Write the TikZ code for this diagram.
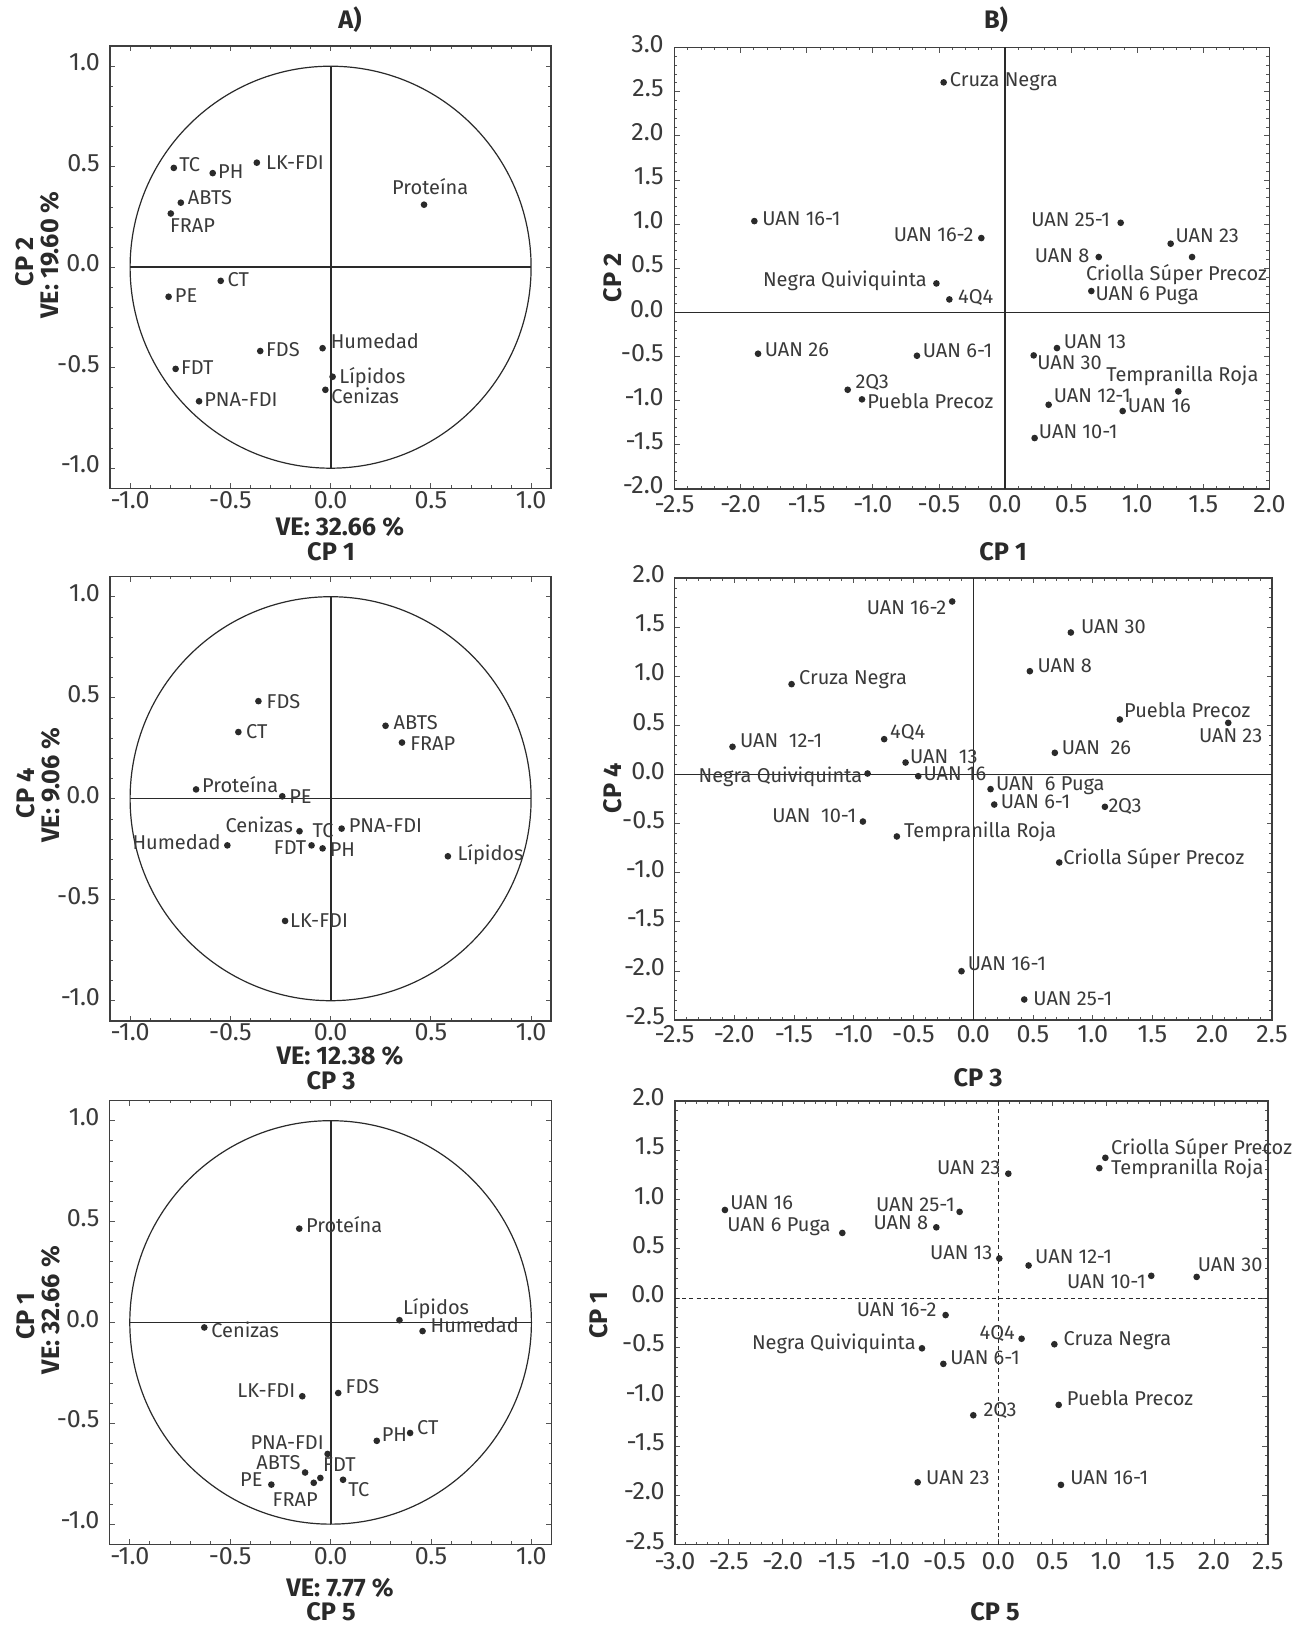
\documentclass[tikz,border=0pt]{standalone}
\usepackage{fontspec}
\setmainfont{Fira Sans}
\definecolor{ink}{HTML}{2a2a2a}
\definecolor{txt}{HTML}{3a3a3a}
\newcommand\lblfont{\fontsize{15}{18}\selectfont}
\newcommand\tickfont{\fontsize{18.8}{22}\selectfont}
\newcommand\ttlfont{\fontsize{19}{22}\selectfont\bfseries}
\newcommand\Dot[3]{\node[dot] (#1) at (#2,#3) {};}
\newcommand\LabW[4]{\node[lbl,anchor=west] (#1) at (#2,#3) {#4};}
\newcommand\LabE[4]{\node[lbl,anchor=east] (#1) at (#2,#3) {#4};}
% frame with inward ticks every 0.1; args are tenths: xmin xmax ymin ymax
\newcommand\Frame[4]{%
  \pgfmathsetmacro\xa{#1/10}\pgfmathsetmacro\xb{#2/10}%
  \pgfmathsetmacro\ya{#3/10}\pgfmathsetmacro\yb{#4/10}%
  \foreach \i in {#1,...,#2}{%
    \pgfmathsetmacro\v{\i/10}\pgfmathsetmacro\len{(mod(\i,5)==0)?4:2.2}%
    \draw[tickl] (\v,\ya) -- ++(0pt,\len pt);
    \draw[tickl] (\v,\yb) -- ++(0pt,-\len pt);}%
  \foreach \i in {#3,...,#4}{%
    \pgfmathsetmacro\v{\i/10}\pgfmathsetmacro\len{(mod(\i,5)==0)?4:2.2}%
    \draw[tickl] (\xa,\v) -- ++(\len pt,0pt);
    \draw[tickl] (\xb,\v) -- ++(-\len pt,0pt);}%
  \draw[framel] (\xa,\ya) rectangle (\xb,\yb);}
\tikzset{
  dot/.style={circle, fill=ink, draw=none, inner sep=0pt, minimum size=5pt},
  lbl/.style={font=\lblfont, text=txt, inner sep=0pt, text height=0.7em, text depth=0pt},
  ticklbl/.style={font=\tickfont, text=txt, inner sep=0pt, text height=0.69em, text depth=0pt},
  ttl/.style={font=\ttlfont, text=ink, inner sep=0pt, text height=0.69em, text depth=0pt},
  framel/.style={draw=ink!90, line width=1.1pt},
  tickl/.style={draw=ink!80, line width=0.6pt},
  circl/.style={draw=ink, line width=0.9pt},
  axv/.style={draw=ink, line width=1.5pt},
  axh/.style={draw=ink, line width=1.1pt},
  axb/.style={draw=ink, line width=0.8pt},
  axd/.style={draw=ink, line width=0.65pt, dash pattern=on 3pt off 2.4pt},
}
\begin{document}
\begin{tikzpicture}[x=0.75pt,y=-0.75pt]
\useasboundingbox (0,0) rectangle (1299,1630);
\fill[white] (0,0) rectangle (1299,1630);

% ---------------- titles ----------------
\node[ttl] (tA) at (350,24) {A)};
\node[ttl] (tB) at (996,24) {B)};
\node[ttl] (a1ve) at (340,531) {VE: 32.66 \%};
\node[ttl] (a1cp) at (331,556) {CP 1};
\node[ttl,rotate=90] (a1cpy) at (29,262) {CP 2};
\node[ttl,rotate=90] (a1vey) at (54,255) {VE: 19.60 \%};
\node[ttl] (a2ve) at (340,1060) {VE: 12.38 \%};
\node[ttl] (a2cp) at (331,1085) {CP 3};
\node[ttl,rotate=90] (a2cpy) at (30,793) {CP 4};
\node[ttl,rotate=90] (a2vey) at (55,785) {VE: 9.06 \%};
\node[ttl] (a3ve) at (340,1592) {VE: 7.77 \%};
\node[ttl] (a3cp) at (331,1616) {CP 5};
\node[ttl,rotate=90] (a3cpy) at (30,1316) {CP 1};
\node[ttl,rotate=90] (a3vey) at (55,1310) {VE: 32.66 \%};
\node[ttl] (b1cp) at (1003,556) {CP 1};
\node[ttl,rotate=90] (b1cpy) at (617,278) {CP 2};
\node[ttl] (b2cp) at (978,1082) {CP 3};
\node[ttl,rotate=90] (b2cpy) at (617,788) {CP 4};
\node[ttl] (b3cp) at (995,1616) {CP 5};
\node[ttl,rotate=90] (b3cpy) at (603,1315) {CP 1};

% ---------------- A1 ----------------
\begin{scope}[shift={(330.6,267.2)}, x=150.375pt, y=150.75pt]
\Frame{-11}{11}{-11}{11}
\foreach \v/\t in {-1/-1.0,-0.5/-0.5,0/0.0,0.5/0.5,1/1.0}{
  \node[ticklbl,anchor=east] at ([xshift=-7.5pt]-1.1,\v) {\t};
  \node[ticklbl] at ([yshift=-12pt]\v,-1.1) {\t};}
\draw[circl] (0,0) ellipse [x radius=1, y radius=1];
\draw[axv] (0,-1) -- (0,1);
\draw[axh] (-1,0) -- (1,0);
\Dot{a1tc}{-0.782}{0.494} \LabW{a1tcl}{-0.756}{0.50}{TC}
\Dot{a1ph}{-0.588}{0.468} \LabW{a1phl}{-0.562}{0.463}{PH}
\Dot{a1lk}{-0.368}{0.520} \LabW{a1lkl}{-0.323}{0.509}{LK-FDI}
\Dot{a1pr}{0.466}{0.311} \node[lbl] (a1prl) at (0.497,0.383) {Proteína};
\Dot{a1ab}{-0.747}{0.321} \LabW{a1abl}{-0.713}{0.335}{ABTS}
\Dot{a1fr}{-0.797}{0.267} \LabW{a1frl}{-0.802}{0.198}{FRAP}
\Dot{a1ct}{-0.548}{-0.068} \LabW{a1ctl}{-0.515}{-0.072}{CT}
\Dot{a1pe}{-0.808}{-0.147} \LabW{a1pel}{-0.778}{-0.154}{PE}
\Dot{a1fds}{-0.351}{-0.417} \LabW{a1fdsl}{-0.323}{-0.421}{FDS}
\Dot{a1hu}{-0.040}{-0.403} \LabW{a1hul}{0.0}{-0.383}{Humedad}
\Dot{a1fdt}{-0.773}{-0.506} \LabW{a1fdtl}{-0.747}{-0.513}{FDT}
\Dot{a1li}{0.010}{-0.545} \LabW{a1lil}{0.043}{-0.554}{Lípidos}
\Dot{a1ce}{-0.026}{-0.610} \LabW{a1cel}{0.003}{-0.656}{Cenizas}
\Dot{a1pna}{-0.656}{-0.667} \LabW{a1pnal}{-0.631}{-0.670}{PNA-FDI}
\end{scope}

% ---------------- A2 ----------------
\begin{scope}[shift={(330.6,798.7)}, x=150.375pt, y=151.5pt]
\Frame{-11}{11}{-11}{11}
\foreach \v/\t in {-1/-1.0,-0.5/-0.5,0/0.0,0.5/0.5,1/1.0}{
  \node[ticklbl,anchor=east] at ([xshift=-7.5pt]-1.1,\v) {\t};
  \node[ticklbl] at ([yshift=-11.5pt]\v,-1.1) {\t};}
\draw[circl] (0,0) ellipse [x radius=1, y radius=1];
\draw[axv] (0,-1) -- (0,1);
\draw[axh] (-1,0) -- (1,0);
\Dot{a2fds}{-0.360}{0.483} \LabW{a2fdsl}{-0.320}{0.471}{FDS}
\Dot{a2ct}{-0.460}{0.330} \LabW{a2ctl}{-0.423}{0.323}{CT}
\Dot{a2ab}{0.274}{0.361} \LabW{a2abl}{0.313}{0.364}{ABTS}
\Dot{a2fr}{0.356}{0.278} \LabW{a2frl}{0.396}{0.260}{FRAP}
\Dot{a2pr}{-0.671}{0.046} \LabW{a2prl}{-0.642}{0.054}{Proteína}
\Dot{a2pe}{-0.241}{0.012} \LabW{a2pel}{-0.207}{0.0}{PE}
\Dot{a2ce}{-0.155}{-0.161} \LabE{a2cel}{-0.186}{-0.142}{Cenizas}
\LabW{a2tcl}{-0.091}{-0.171}{TC}
\Dot{a2pna}{0.055}{-0.148} \LabW{a2pnal}{0.0895}{-0.142}{PNA-FDI}
\Dot{a2hu}{-0.515}{-0.231} \LabE{a2hul}{-0.547}{-0.226}{Humedad}
\Dot{a2fdt}{-0.095}{-0.231} \LabE{a2fdtl}{-0.120}{-0.254}{FDT}
\Dot{a2ph}{-0.040}{-0.246} \LabW{a2phl}{-0.005}{-0.265}{PH}
\Dot{a2li}{0.585}{-0.285} \LabW{a2lil}{0.632}{-0.283}{Lípidos}
\Dot{a2lk}{-0.227}{-0.605} \LabW{a2lkl}{-0.203}{-0.616}{LK-FDI}
\end{scope}

% ---------------- A3 ----------------
\begin{scope}[shift={(330.6,1322.4)}, x=150.6pt, y=151.3pt]
\Frame{-11}{11}{-11}{11}
\foreach \v/\t in {-1/-1.0,-0.5/-0.5,0/0.0,0.5/0.5,1/1.0}{
  \node[ticklbl,anchor=east] at ([xshift=-7.5pt]-1.1,\v) {\t};
  \node[ticklbl] at ([yshift=-12pt]\v,-1.1) {\t};}
\draw[circl] (0,0) ellipse [x radius=1, y radius=1];
\draw[axv] (0,-1) -- (0,1);
\draw[axh] (-1,0) -- (1,0);
\Dot{a3pr}{-0.156}{0.465} \LabW{a3prl}{-0.123}{0.468}{Proteína}
\Dot{a3li}{0.343}{0.011} \LabW{a3lil}{0.360}{0.061}{Lípidos}
\Dot{a3hu}{0.458}{-0.043} \LabW{a3hul}{0.497}{-0.029}{Humedad}
\Dot{a3ce}{-0.629}{-0.025} \LabW{a3cel}{-0.595}{-0.050}{Cenizas}
\Dot{a3lk}{-0.141}{-0.366} \LabE{a3lkl}{-0.175}{-0.348}{LK-FDI}
\Dot{a3fds}{0.038}{-0.350} \LabW{a3fdsl}{0.074}{-0.330}{FDS}
\Dot{a3ph}{0.230}{-0.587} \LabW{a3phl}{0.254}{-0.568}{PH}
\Dot{a3ct}{0.396}{-0.548} \LabW{a3ctl}{0.430}{-0.533}{CT}
\Dot{a3pna}{-0.015}{-0.652} \LabE{a3pnal}{-0.033}{-0.605}{PNA-FDI}
\Dot{a3ab}{-0.127}{-0.744} \LabE{a3abl}{-0.149}{-0.708}{ABTS}
\Dot{a3fdt}{-0.051}{-0.771} \LabW{a3fdtl}{-0.038}{-0.717}{FDT}
\Dot{a3fr}{-0.084}{-0.795} \LabE{a3frl}{-0.063}{-0.888}{FRAP}
\Dot{a3pe}{-0.295}{-0.804} \LabE{a3pel}{-0.338}{-0.789}{PE}
\Dot{a3tc}{0.062}{-0.780} \LabW{a3tcl}{0.087}{-0.840}{TC}
\end{scope}

% ---------------- B1 ----------------
\begin{scope}[shift={(1005,312.4)}, x=99.15pt, y=66.225pt]
\Frame{-25}{20}{-20}{30}
\foreach \v/\t in {-2.5/-2.5,-2/-2.0,-1.5/-1.5,-1/-1.0,-0.5/-0.5,0/0.0,0.5/0.5,1/1.0,1.5/1.5,2/2.0}{
  \node[ticklbl] at ([yshift=-14pt]\v,-2) {\t};}
\foreach \v/\t in {-2/-2.0,-1.5/-1.5,-1/-1.0,-0.5/-0.5,0/0.0,0.5/0.5,1/1.0,1.5/1.5,2/2.0,2.5/2.5,3/3.0}{
  \node[ticklbl,anchor=east] at ([xshift=-8pt]-2.5,\v) {\t};}
\draw[axb] (0,-2) -- (0,3);
\draw[axb] (-2.5,0) -- (2,0);
\Dot{b1cn}{-0.464}{2.605} \LabW{b1cnl}{-0.419}{2.616}{Cruza Negra}
\Dot{b1u161}{-1.896}{1.034} \LabW{b1u161l}{-1.838}{1.042}{UAN 16-1}
\Dot{b1u162}{-0.179}{0.842} \LabE{b1u162l}{-0.237}{0.853}{UAN 16-2}
\Dot{b1nq}{-0.519}{0.328} \LabE{b1nql}{-0.590}{0.351}{Negra Quiviquinta}
\Dot{b1q4}{-0.421}{0.147} \LabW{b1q4l}{-0.356}{0.155}{4Q4}
\Dot{b1u26}{-1.868}{-0.468} \LabW{b1u26l}{-1.818}{-0.449}{UAN 26}
\Dot{b1u61}{-0.666}{-0.491} \LabW{b1u61l}{-0.623}{-0.461}{UAN 6-1}
\Dot{b1q3}{-1.190}{-0.876} \LabW{b1q3l}{-1.132}{-0.808}{2Q3}
\Dot{b1pp}{-1.082}{-0.985} \LabW{b1ppl}{-1.044}{-1.034}{Puebla Precoz}
\Dot{b1u251}{0.875}{1.015} \LabE{b1u251l}{0.797}{1.031}{UAN 25-1}
\Dot{b1u23}{1.253}{0.778} \LabW{b1u23l}{1.288}{0.846}{UAN 23}
\Dot{b1cs}{1.415}{0.627} \LabE{b1csl}{1.982}{0.419}{Criolla Súper Precoz}
\Dot{b1u8}{0.709}{0.627} \LabE{b1u8l}{0.640}{0.619}{UAN 8}
\Dot{b1u6p}{0.653}{0.242} \LabW{b1u6pl}{0.683}{0.193}{UAN 6 Puga}
\Dot{b1u13}{0.393}{-0.404} \LabW{b1u13l}{0.444}{-0.355}{UAN 13}
\Dot{b1u30}{0.217}{-0.487} \LabW{b1u30l}{0.242}{-0.589}{UAN 30}
\Dot{b1tr}{1.311}{-0.895} \LabE{b1trl}{1.919}{-0.732}{Tempranilla Roja}
\Dot{b1u121}{0.330}{-1.046} \LabW{b1u121l}{0.368}{-0.970}{UAN 12-1}
\Dot{b1u16}{0.890}{-1.117} \LabW{b1u16l}{0.928}{-1.080}{UAN 16}
\Dot{b1u101}{0.224}{-1.423} \LabW{b1u101l}{0.255}{-1.374}{UAN 10-1}
\end{scope}

% ---------------- B2 ----------------
\begin{scope}[shift={(973.2,774.5)}, x=89.625pt, y=73.65pt]
\Frame{-25}{25}{-25}{20}
\foreach \v/\t in {-2.5/-2.5,-2/-2.0,-1.5/-1.5,-1/-1.0,-0.5/-0.5,0/0.0,0.5/0.5,1/1.0,1.5/1.5,2/2.0,2.5/2.5}{
  \node[ticklbl] at ([yshift=-13.5pt]\v,-2.5) {\t};}
\foreach \v/\t in {-2.5/-2.5,-2/-2.0,-1.5/-1.5,-1/-1.0,-0.5/-0.5,0/0.0,0.5/0.5,1/1.0,1.5/1.5,2/2.0}{
  \node[ticklbl,anchor=east] at ([xshift=-7pt]-2.5,\v) {\t};}
\draw[axb] (0,-2.5) -- (0,2);
\draw[axb] (-2.5,0) -- (2.5,0);
\Dot{b2u162}{-0.176}{1.762} \LabE{b2u162l}{-0.223}{1.680}{UAN 16-2}
\Dot{b2cn}{-1.520}{0.920} \LabW{b2cnl}{-1.459}{0.961}{Cruza Negra}
\Dot{b2u121}{-2.014}{0.282} \LabW{b2u121l}{-1.953}{0.322}{UAN~~12-1}
\Dot{b2q4}{-0.745}{0.360} \LabW{b2q4l}{-0.697}{0.411}{4Q4}
\Dot{b2u13}{-0.566}{0.122} \LabW{b2u13l}{-0.530}{0.160}{UAN~~13}
\Dot{b2nq}{-0.884}{0.010} \LabE{b2nql}{-0.926}{-0.031}{Negra Quiviquinta}
\Dot{b2u16}{-0.460}{-0.017} \LabW{b2u16l}{-0.418}{-0.017}{UAN 16}
\Dot{b2u6p}{0.145}{-0.149} \LabW{b2u6pl}{0.190}{-0.119}{UAN~~6 Puga}
\Dot{b2u61}{0.176}{-0.306} \LabW{b2u61l}{0.229}{-0.302}{UAN 6-1}
\Dot{b2u101}{-0.923}{-0.479} \LabE{b2u101l}{-0.976}{-0.438}{UAN~~10-1}
\Dot{b2tr}{-0.639}{-0.631} \LabW{b2trl}{-0.580}{-0.594}{Tempranilla Roja}
\Dot{b2u161}{-0.098}{-2.003} \LabW{b2u161l}{-0.047}{-1.952}{UAN 16-1}
\Dot{b2u30}{0.817}{1.446} \LabW{b2u30l}{0.901}{1.480}{UAN 30}
\Dot{b2u8}{0.474}{1.052} \LabW{b2u8l}{0.536}{1.086}{UAN 8}
\Dot{b2pp}{1.227}{0.560} \LabW{b2ppl}{1.261}{0.628}{Puebla Precoz}
\Dot{b2u23}{2.134}{0.526} \LabE{b2u23l}{2.421}{0.377}{UAN 23}
\Dot{b2u26}{0.683}{0.221} \LabW{b2u26l}{0.739}{0.248}{UAN~~26}
\Dot{b2q3}{1.102}{-0.329} \LabW{b2q3l}{1.130}{-0.336}{2Q3}
\Dot{b2cs}{0.720}{-0.896} \LabW{b2csl}{0.753}{-0.866}{Criolla Súper Precoz}
\Dot{b2u251}{0.427}{-2.291} \LabW{b2u251l}{0.502}{-2.305}{UAN 25-1}
\end{scope}

% ---------------- B3 ----------------
\begin{scope}[shift={(998.3,1298)}, x=80.85pt, y=73.95pt]
\Frame{-30}{25}{-25}{20}
\foreach \v/\t in {-3/-3.0,-2.5/-2.5,-2/-2.0,-1.5/-1.5,-1/-1.0,-0.5/-0.5,0/0.0,0.5/0.5,1/1.0,1.5/1.5,2/2.0,2.5/2.5}{
  \node[ticklbl] at ([yshift=-15pt]\v,-2.5) {\t};}
\foreach \v/\t in {-2.5/-2.5,-2/-2.0,-1.5/-1.5,-1/-1.0,-0.5/-0.5,0/0.0,0.5/0.5,1/1.0,1.5/1.5,2/2.0}{
  \node[ticklbl,anchor=east] at ([xshift=-7.5pt]-3,\v) {\t};}
\draw[axd] (0,-2.5) -- (0,2);
\draw[axd] (-3,0) -- (2.5,0);
\Dot{b3u23a}{0.093}{1.261} \LabE{b3u23al}{0.022}{1.295}{UAN 23}
\Dot{b3u16}{-2.536}{0.893} \LabW{b3u16l}{-2.489}{0.946}{UAN 16}
\Dot{b3u6p}{-1.447}{0.660} \LabE{b3u6pl}{-1.555}{0.720}{UAN 6 Puga}
\Dot{b3u251}{-0.359}{0.874} \LabE{b3u251l}{-0.402}{0.925}{UAN 25-1}
\Dot{b3u8}{-0.575}{0.717} \LabE{b3u8l}{-0.649}{0.740}{UAN 8}
\Dot{b3u13}{0.009}{0.401} \LabE{b3u13l}{-0.053}{0.439}{UAN 13}
\Dot{b3u162}{-0.489}{-0.173} \LabE{b3u162l}{-0.572}{-0.143}{UAN 16-2}
\Dot{b3nq}{-0.708}{-0.510} \LabE{b3nql}{-0.764}{-0.477}{Negra Quiviquinta}
\Dot{b3u61}{-0.510}{-0.668} \LabW{b3u61l}{-0.448}{-0.630}{UAN 6-1}
\Dot{b3q3}{-0.232}{-1.189} \LabW{b3q3l}{-0.139}{-1.156}{2Q3}
\Dot{b3u23b}{-0.748}{-1.869} \LabW{b3u23bl}{-0.671}{-1.839}{UAN 23}
\Dot{b3q4}{0.216}{-0.413} \LabE{b3q4l}{0.155}{-0.375}{4Q4}
\Dot{b3cs}{0.993}{1.422} \LabW{b3csl}{1.045}{1.501}{Criolla Súper Precoz}
\Dot{b3tr}{0.937}{1.317} \LabW{b3trl}{1.045}{1.295}{Tempranilla Roja}
\Dot{b3u121}{0.281}{0.330} \LabW{b3u121l}{0.340}{0.394}{UAN 12-1}
\Dot{b3u101}{1.419}{0.225} \LabE{b3u101l}{1.370}{0.143}{UAN 10-1}
\Dot{b3u30}{1.840}{0.214} \LabW{b3u30l}{1.849}{0.319}{UAN 30}
\Dot{b3cn}{0.520}{-0.469} \LabW{b3cnl}{0.603}{-0.432}{Cruza Negra}
\Dot{b3pp}{0.560}{-1.084} \LabW{b3ppl}{0.634}{-1.043}{Puebla Precoz}
\Dot{b3u161}{0.581}{-1.895} \LabW{b3u161l}{0.665}{-1.846}{UAN 16-1}
\end{scope}
\end{tikzpicture}
\end{document}
